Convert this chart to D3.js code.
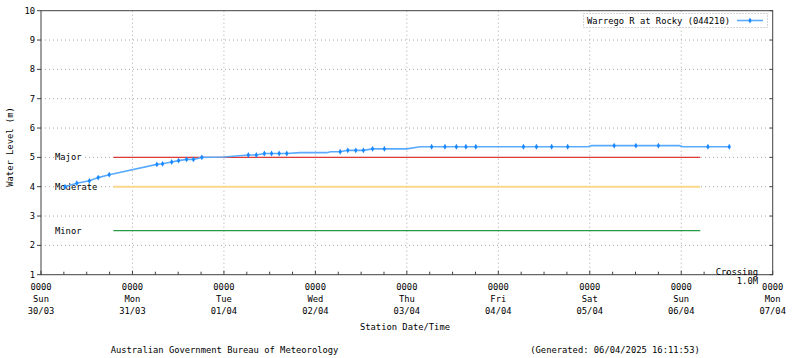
<!DOCTYPE html>
<html><head><meta charset="utf-8">
<script src="https://cdn.jsdelivr.net/npm/d3@7/dist/d3.min.js"></script>
<style>body{margin:0;background:#fff}svg text{font-family:"DejaVu Sans Mono",monospace;font-size:8.8px;fill:#000}</style>
</head><body><svg id="c" width="800" height="358"></svg>
<script>
// hours since 30/03 00:00
const lineHours = [6.3,9.4,12.7,15,17.9,30.4,31.9,34.3,36.1,38.2,40,42.2,48,54.4,56.5,58.6,60.5,62.5,64.5,68,75,76,78.5,80.5,82.6,84.6,87,90.1,96,99.5,102.5,106,109,111.5,114.1,126.6,130,134,138.2,143.5,144.5,150.4,156.1,162,167.5,168.5,175,180.6];
const lineLevels = [4.00,4.12,4.20,4.31,4.41,4.76,4.78,4.84,4.89,4.93,4.93,5.00,5.01,5.08,5.08,5.13,5.13,5.13,5.13,5.16,5.16,5.19,5.19,5.24,5.24,5.24,5.29,5.29,5.29,5.36,5.36,5.36,5.36,5.36,5.36,5.36,5.36,5.36,5.36,5.36,5.40,5.40,5.40,5.40,5.40,5.36,5.36,5.36];
const markerHours = [6.3,9.4,12.7,15,17.9,30.4,31.9,34.3,36.1,38.2,40,42.2,54.4,56.5,58.6,60.5,62.5,64.5,78.5,80.5,82.6,84.6,87,90.1,102.5,106,109,111.5,114.1,126.6,130,134,138.2,150.4,156.1,162,175,180.6];
const thresholdNames = ["Major","Moderate","Minor"];
const thresholdLevels = [5,4,2.5];
const thresholdColors = ["#e03a36","#fcd98a","#2a9a48"];
const thresholdStartHour = 19, thresholdEndHour = 173;
const dayNames = ["Sun","Mon","Tue","Wed","Thu","Fri","Sat","Sun","Mon"];
const dayDates = ["30/03","31/03","01/04","02/04","03/04","04/04","05/04","06/04","07/04"];
const yTicks = [1,2,3,4,5,6,7,8,9,10];
const seriesName = "Warrego R at Rocky (044210)";

const svg = d3.select("#c");
const L=41, R=772.7, T=10.7, B=274.7;
const x = d3.scaleLinear().domain([0,192]).range([L,R]);
const y = d3.scaleLinear().domain([1,10]).range([B,T]);
const g = svg.append("g");

// grid
g.selectAll(".gy").data(yTicks.slice(1,-1)).join("line")
 .attr("x1",L).attr("x2",R).attr("y1",d=>y(d)).attr("y2",d=>y(d))
 .attr("stroke","#a8a8a8").attr("stroke-dasharray","1,3");
g.selectAll(".gx").data(d3.range(1,8)).join("line")
 .attr("x1",d=>x(d*24)).attr("x2",d=>x(d*24)).attr("y1",T).attr("y2",B)
 .attr("stroke","#a8a8a8").attr("stroke-dasharray","1,3");

// thresholds
thresholdLevels.forEach((v,i)=>{
  g.append("line").attr("x1",x(thresholdStartHour)).attr("x2",x(thresholdEndHour))
   .attr("y1",y(v)).attr("y2",y(v)).attr("stroke",thresholdColors[i]).attr("stroke-width",i==1?2:1.3);
  const t = g.append("text").attr("x",55).attr("y",y(v)).attr("dy","0.35em").text(thresholdNames[i]);
  const bb = t.node().getBBox();
  g.insert("rect","text:last-of-type").attr("x",bb.x-1).attr("y",y(v)-2).attr("width",bb.width+2).attr("height",4).attr("fill","#fff");
});

// series line
const pts = lineHours.map((h,i)=>[h,lineLevels[i]]);
g.append("path").datum(pts).attr("fill","none").attr("stroke","#5aabff").attr("stroke-width",1.6)
 .attr("d",d3.line().x(d=>x(d[0])).y(d=>y(d[1])));
const mk = markerHours.map(h=>[h,lineLevels[lineHours.indexOf(h)]]);
const diamond = d3.symbol().type(d3.symbolDiamond).size(10);
g.selectAll(".mk").data(mk).join("path").attr("d",diamond)
 .attr("transform",d=>`translate(${x(d[0])},${y(d[1])})`).attr("fill","#1a88ff");

// frame
g.append("rect").attr("x",L).attr("y",T).attr("width",R-L).attr("height",B-T)
 .attr("fill","none").attr("stroke","#404040").attr("stroke-width",1);

// y ticks
yTicks.forEach(v=>{
  g.append("line").attr("x1",L-4).attr("x2",L).attr("y1",y(v)).attr("y2",y(v)).attr("stroke","#404040");
  g.append("line").attr("x1",R-3).attr("x2",R).attr("y1",y(v)).attr("y2",y(v)).attr("stroke","#404040");
  g.append("text").attr("x",35).attr("y",y(v)).attr("dy","0.35em").attr("text-anchor","end").text(v);
});
// x ticks
d3.range(0,193,6).forEach(h=>{
  const len = h%24===0?4:3;
  g.append("line").attr("x1",x(h)).attr("x2",x(h)).attr("y1",B).attr("y2",B-len).attr("stroke","#404040");
});
dayNames.forEach((d,i)=>{
  const xx = x(i*24);
  g.append("text").attr("x",xx).attr("y",287).attr("dy","0.35em").attr("text-anchor","middle").text("0000");
  g.append("text").attr("x",xx).attr("y",299).attr("dy","0.35em").attr("text-anchor","middle").text(d);
  g.append("text").attr("x",xx).attr("y",311).attr("dy","0.35em").attr("text-anchor","middle").text(dayDates[i]);
});

// crossing
g.append("text").attr("x",758).attr("y",272).attr("dy","0.35em").attr("text-anchor","end").text("Crossing");
g.append("text").attr("x",758).attr("y",280.5).attr("dy","0.35em").attr("text-anchor","end").text("1.0M");

// axis titles
g.append("text").attr("x",405).attr("y",327).attr("dy","0.35em").attr("text-anchor","middle").text("Station Date/Time");
g.append("text").attr("transform","translate(10,147) rotate(-90)").attr("dy","0.35em").attr("text-anchor","middle").text("Water Level (m)");
g.append("text").attr("x",224.5).attr("y",350).attr("dy","0.35em").attr("text-anchor","middle").text("Australian Government Bureau of Meteorology");
g.append("text").attr("x",615).attr("y",350).attr("dy","0.35em").attr("text-anchor","middle").text("(Generated: 06/04/2025 16:11:53)");

// legend
g.append("rect").attr("x",583.5).attr("y",13.5).attr("width",184).attr("height",14).attr("fill","#fff")
 .attr("stroke","#a8a8a8").attr("stroke-dasharray","1,2");
g.append("text").attr("x",587).attr("y",20.5).attr("dy","0.35em").text(seriesName);
g.append("line").attr("x1",737).attr("x2",763).attr("y1",20.5).attr("y2",20.5).attr("stroke","#5aabff").attr("stroke-width",1.6);
g.append("path").attr("d",diamond).attr("transform","translate(750,20.5)").attr("fill","#1a88ff");
</script></body></html>
